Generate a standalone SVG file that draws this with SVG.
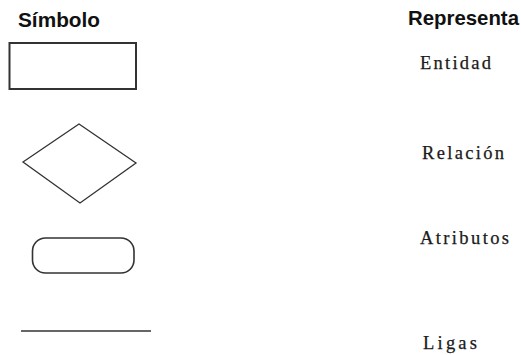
<svg xmlns="http://www.w3.org/2000/svg" width="521" height="355" viewBox="0 0 521 355">
<style>
.hdr{font-family:"Liberation Sans",Arial,sans-serif;font-weight:bold;font-size:20.5px;fill:#111}
.lbl{font-family:"Liberation Serif","Times New Roman",serif;font-size:18.5px;fill:#1a1a1a;stroke:#1a1a1a;stroke-width:0.25}
.shape{fill:none;stroke:#333;stroke-width:1.6}
</style>
<rect width="521" height="355" fill="#fff"/>
<g id="headers">
<text class="hdr" x="18" y="27" textLength="82" lengthAdjust="spacingAndGlyphs">Símbolo</text>
<text class="hdr" x="408" y="25" textLength="111" lengthAdjust="spacingAndGlyphs">Representa</text>
</g>
<g id="entidad">
<rect class="shape" x="9.5" y="43" width="126.5" height="46" style="stroke-width:2"/>
<text class="lbl" x="420" y="69" textLength="71" lengthAdjust="spacing">Entidad</text>
</g>
<g id="relacion">
<polygon class="shape" points="23,162 79,124 136,163 80,203" style="stroke-width:1.3"/>
<text class="lbl" x="422" y="159" textLength="82" lengthAdjust="spacing">Relación</text>
</g>
<g id="atributos">
<rect class="shape" x="32.5" y="238" width="101.5" height="35" rx="13" ry="13"/>
<text class="lbl" x="420" y="244" textLength="89" lengthAdjust="spacing">Atributos</text>
</g>
<g id="connectors">
<line class="shape" x1="21" y1="331" x2="151" y2="331"/>
</g>
<g id="ligas">
<text class="lbl" x="423" y="349" textLength="54" lengthAdjust="spacing">Ligas</text>
</g>
</svg>
